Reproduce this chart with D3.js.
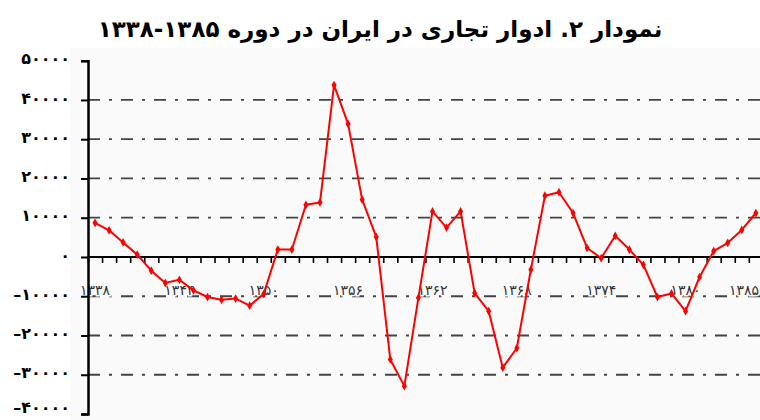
<!DOCTYPE html>
<html lang="fa">
<head>
<meta charset="utf-8">
<title>ادوار تجاری در ایران</title>
<script src="https://d3js.org/d3.v7.min.js"></script>
<style>
  body { margin: 0; background: #fff; }
  svg { display: block; }
</style>
</head>
<body>
<div id="chart"></div>
<script>
// years 1338..1385 (categories)
var years = [1338, 1339, 1340, 1341, 1342, 1343, 1344, 1345, 1346, 1347, 1348, 1349,
             1350, 1351, 1352, 1353, 1354, 1355, 1356, 1357, 1358, 1359, 1360, 1361,
             1362, 1363, 1364, 1365, 1366, 1367, 1368, 1369, 1370, 1371, 1372, 1373,
             1374, 1375, 1376, 1377, 1378, 1379, 1380, 1381, 1382, 1383, 1384, 1385];
// cycle values
var cycle = [8700, 6800, 3700, 600, -3500, -6600, -5800, -8500, -10200, -10900, -10600, -12400,
             -9400, 1900, 1900, 13300, 13900, 43800, 33900, 14600, 5100, -26100, -32900, -10400,
             11600, 7500, 11600, -9200, -13800, -28200, -23200, -3200, 15600, 16500, 11200, 2300,
             -300, 5400, 1900, -2000, -10200, -9300, -13800, -5100, 1500, 3600, 6900, 11200];
var labelYears = [1338, 1344, 1350, 1356, 1362, 1368, 1374, 1380, 1385];
var yTicks = [50000, 40000, 30000, 20000, 10000, 0, -10000, -20000, -30000, -40000];
var gridTicks = [40000, 30000, 20000, 10000, -10000, -20000, -30000];

var W = 760, H = 420;
var fa = "۰۱۲۳۴۵۶۷۸۹";
function toFa(n) {
  var s = String(Math.abs(n)).replace(/[0-9]/g, function(c) { return fa[+c]; });
  return (n < 0 ? "–" : "") + s;
}

var svg = d3.select("#chart").append("svg")
  .attr("width", W).attr("height", H);

// faint plot background
svg.append("rect")
  .attr("x", 70).attr("y", 48).attr("width", W - 70).attr("height", H - 48)
  .attr("fill", "#fafafa");

var left = 88, step = 14.06;
var x = d3.scaleBand().domain(years).range([left, left + years.length * step]).padding(0);
var xEdge = d3.scaleLinear().domain([0, years.length]).range([left, left + years.length * step]);
var y = d3.scaleLinear().domain([-40000, 50000]).range([414, 60.7]);

// gridlines (dash-dot)
svg.append("g").selectAll("line")
  .data(gridTicks)
  .enter().append("line")
    .attr("x1", left).attr("x2", W)
    .attr("y1", function(d) { return y(d); })
    .attr("y2", function(d) { return y(d); })
    .attr("stroke", "#444")
    .attr("stroke-width", 1.8)
    .attr("stroke-dasharray", "12,9,3,9");

// zero line with category ticks
var xAxis = svg.append("g")
  .attr("transform", "translate(0," + y(0) + ")")
  .call(d3.axisBottom(xEdge).tickValues(d3.range(years.length + 1)).tickSize(6).tickFormat(""));
xAxis.select(".domain").remove();
xAxis.selectAll(".tick line").attr("stroke", "#000").attr("stroke-width", 1.6);
svg.append("line")
  .attr("x1", left).attr("x2", W)
  .attr("y1", y(0)).attr("y2", y(0))
  .attr("stroke", "#000").attr("stroke-width", 2);

// year labels (last one pulled in so it stays inside)
var lastYear = labelYears[labelYears.length - 1];
svg.append("g").selectAll("text")
  .data(labelYears)
  .enter().append("text")
    .attr("x", function(d) { return d === lastYear ? W - 1 : x(d) + x.bandwidth() / 2; })
    .attr("y", y(-10000) - 1)
    .attr("text-anchor", function(d) { return d === lastYear ? "end" : "middle"; })
    .style("font-family", "DejaVu Sans")
    .style("font-size", "14px")
    .style("paint-order", "stroke")
    .attr("stroke", "#fafafa").attr("stroke-width", 3)
    .attr("fill", "#333")
    .text(function(d) { return toFa(d); });

// y axis
var yAxis = svg.append("g")
  .attr("transform", "translate(" + left + ",0)")
  .call(d3.axisLeft(y).tickValues(yTicks).tickSize(7).tickPadding(11).tickFormat(toFa));
yAxis.select(".domain").attr("stroke", "#000").attr("stroke-width", 2.5);
yAxis.selectAll(".tick line").attr("stroke", "#000").attr("stroke-width", 2);
yAxis.selectAll(".tick text")
  .attr("dy", function(d) { return d === -40000 ? "-0.1em" : "0.2em"; })
  .style("font-family", "DejaVu Sans")
  .style("font-weight", "bold")
  .style("font-size", "16px")
  .attr("fill", "#000");

// series line
var line = d3.line()
  .x(function(d, i) { return x(years[i]) + x.bandwidth() / 2; })
  .y(function(d) { return y(d); });
svg.append("path")
  .datum(cycle)
  .attr("d", line)
  .attr("fill", "none")
  .attr("stroke", "#ff0000")
  .attr("stroke-width", 2)
  .attr("stroke-linejoin", "round");

svg.append("g").selectAll("path")
  .data(cycle)
  .enter().append("path")
    .attr("d", d3.symbol().type(d3.symbolDiamond).size(22))
    .attr("transform", function(d, i) {
      return "translate(" + (x(years[i]) + x.bandwidth() / 2) + "," + y(d) + ")";
    })
    .attr("fill", "#ff0000");

// title
svg.append("text")
  .attr("x", 380).attr("y", 37)
  .attr("text-anchor", "middle")
  .attr("direction", "rtl")
  .style("font-family", "DejaVu Sans")
  .style("font-weight", "bold")
  .style("font-size", "23px")
  .text("نمودار ۲. ادوار تجاری در ایران در دوره ۱۳۸۵-۱۳۳۸");
</script>
</body>
</html>
